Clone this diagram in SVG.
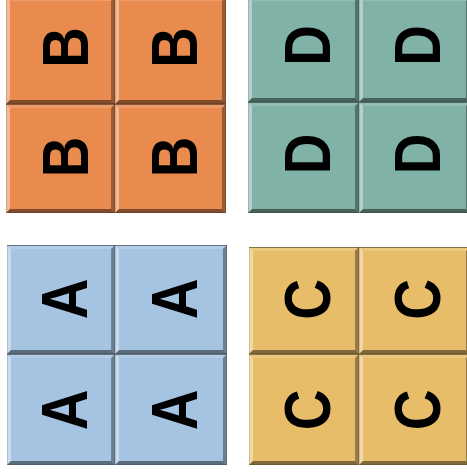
<svg xmlns="http://www.w3.org/2000/svg" xmlns:xlink="http://www.w3.org/1999/xlink" width="467" height="476" viewBox="0 0 467 476">
<style>
.b{fill:#E98A4F}
.d{fill:#80B2A7}
.a{fill:#A5C4E1}
.c{fill:#E7BD69}
.l{font-family:"Liberation Sans",Arial,sans-serif;font-weight:bold;font-size:64px;fill:#000;text-anchor:middle}
</style>
<defs>
<symbol id="bevel" viewBox="0 0 110 108" preserveAspectRatio="none">
<polygon points="0,0 4,4 4,104 0,108" fill="#fff" opacity="0.4"/>
<polygon points="0,0 110,0 106,4 4,4" fill="#fff" opacity="0.15"/>
<polygon points="110,0 110,108 106,104 106,4" fill="#000" opacity="0.35"/>
<polygon points="0,108 110,108 106,104 4,104" fill="#000" opacity="0.45"/>
<rect x="0" y="0" width="110" height="1" fill="#000" opacity="0.35"/>
<rect x="0" y="0" width="110" height="108" fill="none" stroke="#000" stroke-opacity="0.25" stroke-width="1"/>
</symbol>
</defs>
<rect width="467" height="476" fill="#fff"/>
<g id="gridB">
<g id="B1"><rect class="b" x="6" y="-3" width="109" height="107"/><use xlink:href="#bevel" x="6" y="-3" width="109" height="107"/><text class="l" transform="translate(65,47.5) rotate(-90) scale(0.88,1)" y="23">B</text></g>
<g id="B2"><rect class="b" x="115" y="-3" width="111" height="107"/><use xlink:href="#bevel" x="115" y="-3" width="111" height="107"/><text class="l" transform="translate(174,47.5) rotate(-90) scale(0.88,1)" y="23">B</text></g>
<g id="B3"><rect class="b" x="6" y="104" width="109" height="109"/><use xlink:href="#bevel" x="6" y="104" width="109" height="109"/><text class="l" transform="translate(65,157) rotate(-90) scale(0.88,1)" y="23">B</text></g>
<g id="B4"><rect class="b" x="115" y="104" width="111" height="109"/><use xlink:href="#bevel" x="115" y="104" width="111" height="109"/><text class="l" transform="translate(174,157) rotate(-90) scale(0.88,1)" y="23">B</text></g>
</g>
<g id="gridD">
<g id="D1"><rect class="d" x="248" y="-3" width="111" height="105"/><use xlink:href="#bevel" x="248" y="-3" width="111" height="105"/><text class="l" transform="translate(307,45.5) rotate(-90) scale(0.88,1)" y="23">D</text></g>
<g id="D2"><rect class="d" x="359" y="-3" width="111" height="105"/><use xlink:href="#bevel" x="359" y="-3" width="111" height="105"/><text class="l" transform="translate(417,45.5) rotate(-90) scale(0.88,1)" y="23">D</text></g>
<g id="D3"><rect class="d" x="248" y="102" width="111" height="111"/><use xlink:href="#bevel" x="248" y="102" width="111" height="111"/><text class="l" transform="translate(307,154) rotate(-90) scale(0.88,1)" y="23">D</text></g>
<g id="D4"><rect class="d" x="359" y="102" width="111" height="111"/><use xlink:href="#bevel" x="359" y="102" width="111" height="111"/><text class="l" transform="translate(417,154) rotate(-90) scale(0.88,1)" y="23">D</text></g>
</g>
<g id="gridA">
<g id="A1"><rect class="a" x="7" y="245" width="108" height="109"/><use xlink:href="#bevel" x="7" y="245" width="108" height="109"/><text class="l" transform="translate(64,299) rotate(-90) scale(0.88,1)" y="23">A</text></g>
<g id="A2"><rect class="a" x="115" y="245" width="112" height="109"/><use xlink:href="#bevel" x="115" y="245" width="112" height="109"/><text class="l" transform="translate(174,299) rotate(-90) scale(0.88,1)" y="23">A</text></g>
<g id="A3"><rect class="a" x="7" y="354" width="108" height="111"/><use xlink:href="#bevel" x="7" y="354" width="108" height="111"/><text class="l" transform="translate(64,410) rotate(-90) scale(0.88,1)" y="23">A</text></g>
<g id="A4"><rect class="a" x="115" y="354" width="112" height="111"/><use xlink:href="#bevel" x="115" y="354" width="112" height="111"/><text class="l" transform="translate(174,410) rotate(-90) scale(0.88,1)" y="23">A</text></g>
</g>
<g id="gridC">
<g id="C1"><rect class="c" x="249" y="247" width="110" height="107"/><use xlink:href="#bevel" x="249" y="247" width="110" height="107"/><text class="l" transform="translate(307,299.5) rotate(-90) scale(0.88,1)" y="23">C</text></g>
<g id="C2"><rect class="c" x="359" y="247" width="111" height="107"/><use xlink:href="#bevel" x="359" y="247" width="111" height="107"/><text class="l" transform="translate(417,299.5) rotate(-90) scale(0.88,1)" y="23">C</text></g>
<g id="C3"><rect class="c" x="249" y="354" width="110" height="111"/><use xlink:href="#bevel" x="249" y="354" width="110" height="111"/><text class="l" transform="translate(307,410) rotate(-90) scale(0.88,1)" y="23">C</text></g>
<g id="C4"><rect class="c" x="359" y="354" width="111" height="111"/><use xlink:href="#bevel" x="359" y="354" width="111" height="111"/><text class="l" transform="translate(417,410) rotate(-90) scale(0.88,1)" y="23">C</text></g>
</g>
<g id="connectors"/>
</svg>
